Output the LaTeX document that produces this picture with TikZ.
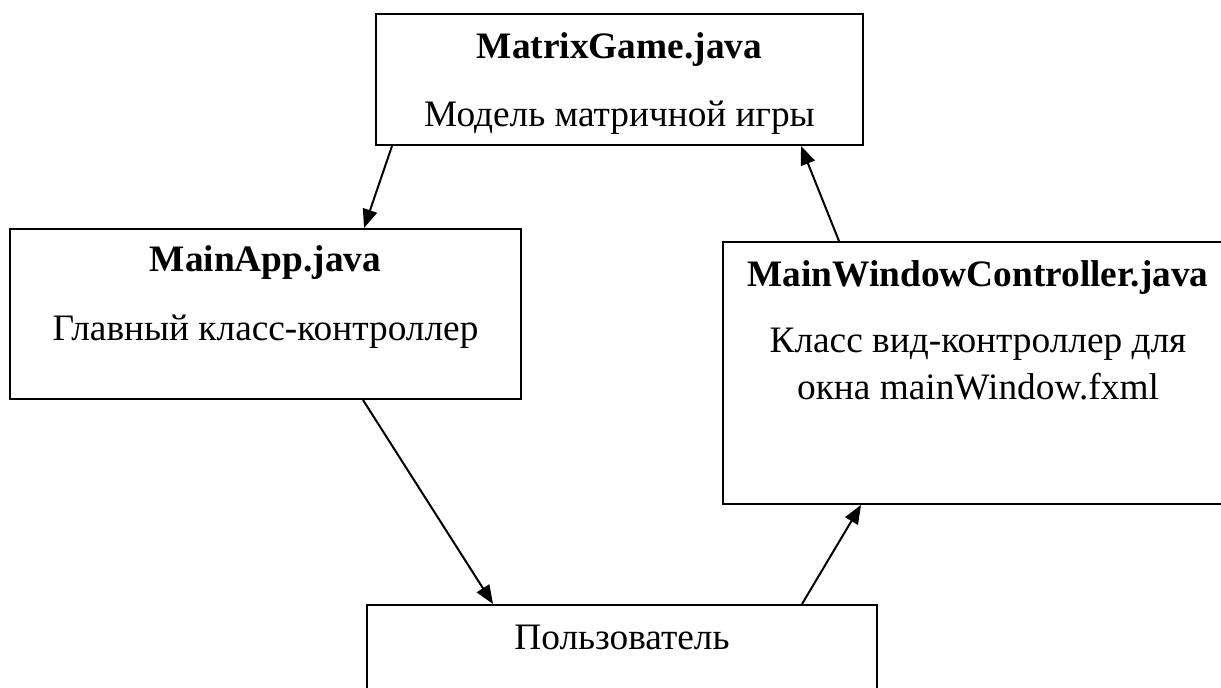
\documentclass[tikz,border=0pt]{standalone}
\usepackage{fontspec}
\setmainfont{Liberation Serif}
\usetikzlibrary{arrows.meta,calc,positioning}

\tikzset{
  box/.style={draw, line width=1.5pt, rectangle, inner sep=0pt},
  head/.style={font=\fontsize{28}{35.25}\selectfont\bfseries, anchor=base},
  body/.style={font=\fontsize{28}{35.25}\selectfont, anchor=base},
  link/.style={line width=1.5pt, -{Triangle[length=14pt,width=11pt]}}
}

\begin{document}
\begin{tikzpicture}[x=0.75pt,y=0.75pt,yscale=-1,xscale=1]
    \useasboundingbox (0,0) rectangle (1221,688);

    %Boxes
    \node[box, minimum width=365.25pt, minimum height=98.25pt] (game) at (619.5,79.5) {};
    \node[box, minimum width=383.25pt, minimum height=127.5pt] (app) at (265.5,314) {};
    \node[box, minimum width=382.5pt, minimum height=196.5pt] (ctrl) at (978,373) {};
    \node[box, minimum width=382.5pt, minimum height=86.25pt] (user) at (622,662.5) {};

    %Texts
    \node[head] (game-h) at ($(game.north)+(0,46)$) {MatrixGame.java};
    \node[body] (game-b) at ($(game.north)+(0,114)$) {Модель матричной игры};
    \node[head] (app-h) at ($(app.north)+(0,44)$) {MainApp.java};
    \node[body] (app-b) at ($(app.north)+(0,112)$) {Главный класс-контроллер};
    \node[head] (ctrl-h) at ($(ctrl.north)+(0,45)$) {MainWindowController.java};
    \node[body] (ctrl-b1) at ($(ctrl.north)+(0,111)$) {Класс вид-контроллер для};
    \node[body] (ctrl-b2) at ($(ctrl.north)+(0,158)$) {окна mainWindow.fxml};
    \node[body] (user-b) at ($(user.north)+(0,45)$) {Пользователь};

    %Coordinate
    \coordinate (g-out) at ($(game.south west)+(17,0)$);
    \coordinate (g-in) at ($(game.south east)+(-63,0)$);
    \coordinate (a-in) at ($(app.north)+(98.5,0)$);
    \coordinate (a-out) at ($(app.south)+(97.5,0)$);
    \coordinate (u-in) at ($(user.north west)+(127,0)$);
    \coordinate (u-out) at ($(user.north east)+(-76,0)$);
    \coordinate (c-in) at ($(ctrl.south west)+(139,0)$);
    \coordinate (c-out) at ($(ctrl.north west)+(117,0)$);

    \draw[link] (g-out) -- (a-in);
    \draw[link] (a-out) -- (u-in);
    \draw[link] (u-out) -- (c-in);
    \draw[link] (c-out) -- (g-in);
\end{tikzpicture}
\end{document}
